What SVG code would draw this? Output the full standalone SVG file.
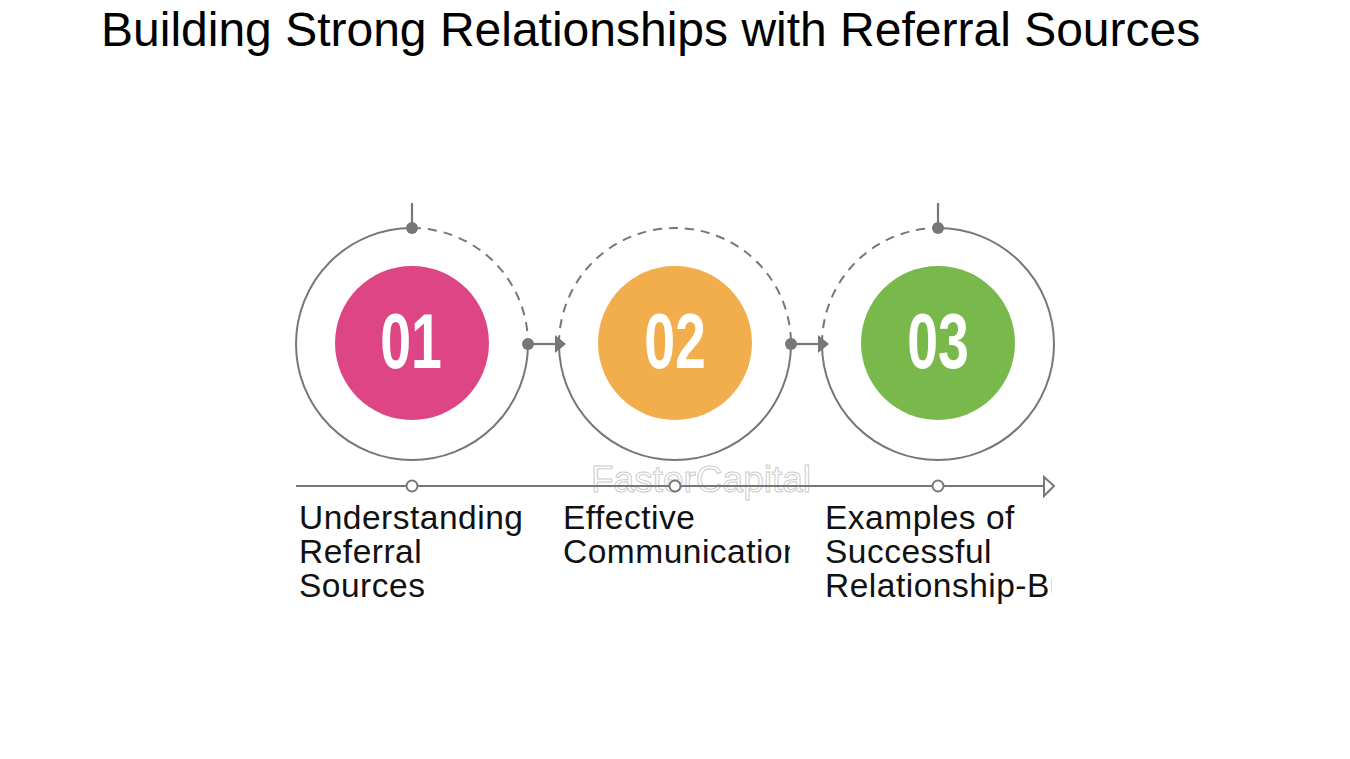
<svg xmlns="http://www.w3.org/2000/svg" width="1350" height="759" viewBox="0 0 1350 759">
  <style>
    .ring { fill: none; stroke: #777777; stroke-width: 2; }
    .dash { fill: none; stroke: #777777; stroke-width: 2; stroke-dasharray: 9 7; }
    .dot { fill: #777777; }
    .line { stroke: #777777; stroke-width: 2.2; fill: none; }
    .hollow { fill: #ffffff; stroke: #777777; stroke-width: 2; }
    .num { font-family: "Liberation Sans", Arial, sans-serif; font-weight: bold; font-size: 77px; fill: #ffffff; text-anchor: middle; }
    .label { font-family: "Liberation Sans", Arial, sans-serif; font-size: 33.5px; letter-spacing: 0.5px; fill: #111111; }
    .title { font-family: "Liberation Sans", Arial, sans-serif; font-size: 48px; fill: #000000; }
    .wm { font-family: "Liberation Sans", Arial, sans-serif; font-size: 37px; fill: none; stroke: #cccccc; stroke-width: 1; }
  </style>
  <defs>
    <clipPath id="c1"><rect x="290" y="495" width="237" height="120"/></clipPath>
    <clipPath id="c2"><rect x="555" y="495" width="235" height="120"/></clipPath>
    <clipPath id="c3"><rect x="818" y="495" width="234" height="120"/></clipPath>
  </defs>
  <rect width="1350" height="759" fill="#ffffff"/>

  <text class="title" x="101" y="46">Building Strong Relationships with Referral Sources</text>

  <text class="wm" x="591" y="492">FasterCapital</text>

  <g id="connectors">
    <line class="line" x1="412" y1="203" x2="412" y2="228"/>
    <line class="line" x1="938" y1="203" x2="938" y2="228"/>
    <line class="line" x1="528" y1="344" x2="556" y2="344"/>
    <polygon class="dot" points="555,335 566,344 555,353"/>
    <line class="line" x1="791" y1="344" x2="819" y2="344"/>
    <polygon class="dot" points="818,335 829,344 818,353"/>
    <line class="line" x1="296" y1="486" x2="1044" y2="486"/>
    <polygon points="1044,477 1054,486 1044,496" fill="#ffffff" stroke="#777777" stroke-width="2"/>
  </g>

  <g id="node1">
    <path class="ring" d="M412,228 A116,116 0 1 0 528,344"/>
    <path class="dash" d="M412,228 A116,116 0 0 1 528,344"/>
    <circle class="dot" cx="412" cy="228" r="6"/>
    <circle class="dot" cx="528" cy="344" r="6"/>
    <circle cx="412" cy="343" r="77" fill="#DD4584"/>
    <text class="num" transform="translate(411,368) scale(0.72,1)">01</text>
    <circle class="hollow" cx="412" cy="486" r="5.5"/>
    <g clip-path="url(#c1)">
      <text class="label" x="299" y="529">Understanding</text>
      <text class="label" x="299" y="563">Referral</text>
      <text class="label" x="299" y="597">Sources</text>
    </g>
  </g>

  <g id="node2">
    <path class="ring" d="M559,344 A116,116 0 0 0 791,344"/>
    <path class="dash" d="M559,344 A116,116 0 0 1 791,344"/>
    <circle class="dot" cx="791" cy="344" r="6"/>
    <circle cx="675" cy="343" r="77" fill="#F2AE4C"/>
    <text class="num" transform="translate(675,368) scale(0.72,1)">02</text>
    <circle class="hollow" cx="675" cy="486" r="5.5"/>
    <g clip-path="url(#c2)">
      <text class="label" x="563" y="529">Effective</text>
      <text class="label" x="563" y="563">Communication</text>
    </g>
  </g>

  <g id="node3">
    <path class="dash" d="M822,344 A116,116 0 0 1 938,228"/>
    <path class="ring" d="M938,228 A116,116 0 1 1 822,344"/>
    <circle class="dot" cx="938" cy="228" r="6"/>
    <circle cx="938" cy="343" r="77" fill="#79B94C"/>
    <text class="num" transform="translate(938,368) scale(0.72,1)">03</text>
    <circle class="hollow" cx="938" cy="486" r="5.5"/>
    <g clip-path="url(#c3)">
      <text class="label" x="825" y="529">Examples of</text>
      <text class="label" x="825" y="563">Successful</text>
      <text class="label" x="825" y="597">Relationship-Building</text>
    </g>
  </g>
</svg>
